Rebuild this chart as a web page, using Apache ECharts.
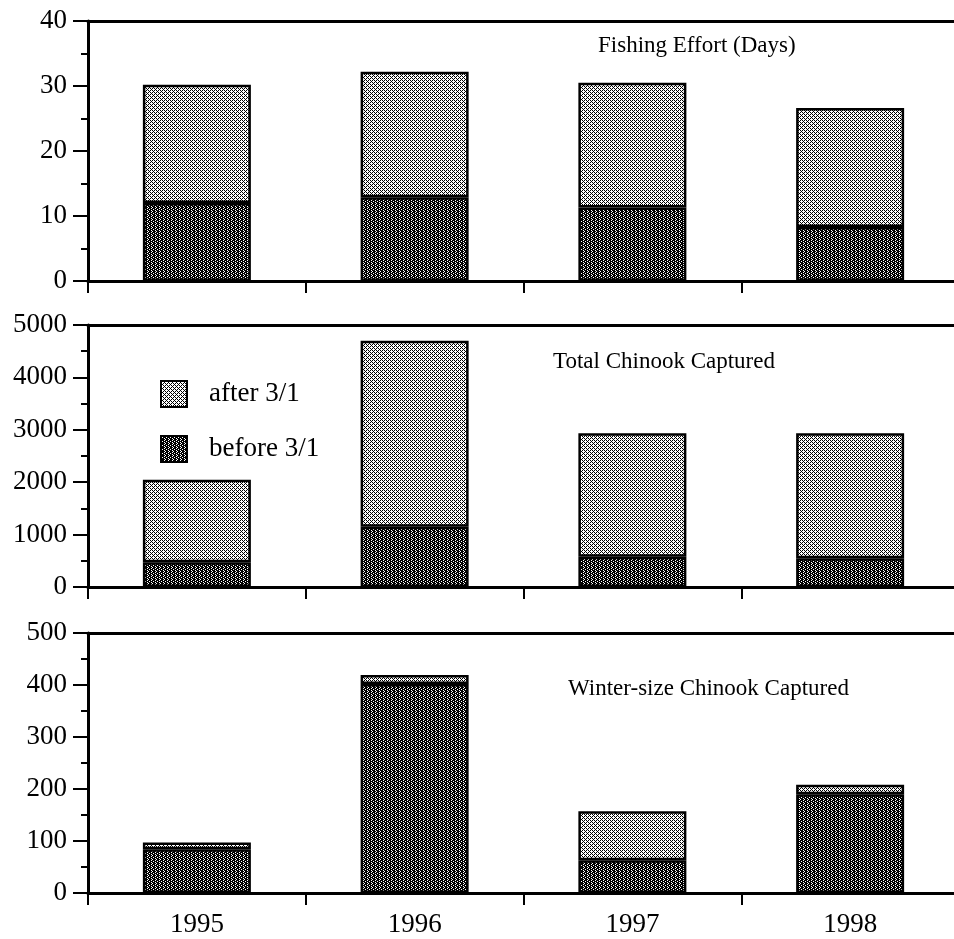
<!DOCTYPE html>
<html>
<head>
<meta charset="utf-8">
<script src="https://cdn.jsdelivr.net/npm/echarts@6/dist/echarts.min.js"></script>
<style>html,body{margin:0;padding:0;background:#fff;overflow:hidden;}#c{width:960px;height:939px;}</style>
</head>
<body>
<div id="c"></div>
<script>
// ---- data ----
const years = ['1995', '1996', '1997', '1998'];
const effortBefore = [12, 12.9, 11.3, 8.3];
const effortAfter = [18.2, 19.3, 19.2, 18.3];
const totalBefore = [470, 1150, 575, 550];
const totalAfter = [1575, 3550, 2360, 2385];
const winterBefore = [84, 402, 63, 190];
const winterAfter = [13, 17, 94, 18];
const panelTitles = ['Fishing Effort (Days)', 'Total Chinook Captured', 'Winter-size Chinook Captured'];
const yMax = [40, 5000, 500];
const yInterval = [10, 1000, 100];
const seriesNames = ['after 3/1', 'before 3/1'];

// ---- stipple patterns ----
function makePattern(bits) {
  const c = document.createElement('canvas');
  c.width = 4; c.height = 4;
  const ctx = c.getContext('2d');
  ctx.fillStyle = '#fff'; ctx.fillRect(0, 0, 4, 4);
  ctx.fillStyle = '#000';
  for (let y = 0; y < 4; y++) for (let x = 0; x < 4; x++) if (bits[y][x]) ctx.fillRect(x, y, 1, 1);
  return { image: c, repeat: 'repeat' };
}
const lightPat = makePattern([[1,0,1,0],[0,0,0,1],[1,0,1,0],[0,1,0,0]]);
const darkPat = makePattern([[1,1,1,0],[1,0,1,1],[1,1,1,0],[0,1,1,1]]);

const serif = 'Liberation Serif';
const grids = [
  { left: 88, width: 871, top: 21, height: 260 },
  { left: 88, width: 871, top: 325, height: 262 },
  { left: 88, width: 871, top: 633, height: 260 }
];
const titlePos = [
  { left: 598, top: 34 },
  { left: 553, top: 350 },
  { left: 568, top: 677 }
];
const beforeData = [effortBefore, totalBefore, winterBefore];
const afterData = [effortAfter, totalAfter, winterAfter];

const xAxes = [], yAxes = [], series = [], titles = [];
for (let i = 0; i < 3; i++) {
  xAxes.push({
    type: 'category', gridIndex: i, data: years, position: 'bottom',
    boundaryGap: true,
    axisLine: { show: true, lineStyle: { color: '#000', width: 3 } },
    axisTick: { show: true, length: 12, lineStyle: { color: '#000', width: 2 } },
    axisLabel: { show: i === 2, color: '#000', fontFamily: serif, fontSize: 27, margin: 18 }
  });
  xAxes.push({
    type: 'category', gridIndex: i, data: years, position: 'top',
    axisLine: { show: true, lineStyle: { color: '#000', width: 3 } },
    axisTick: { show: false }, axisLabel: { show: false }
  });
  yAxes.push({
    type: 'value', gridIndex: i, min: 0, max: yMax[i], interval: yInterval[i],
    axisLine: { show: true, lineStyle: { color: '#000', width: 3 } },
    axisTick: { show: true, length: 15, lineStyle: { color: '#000', width: 2 } },
    minorTick: { show: true, splitNumber: 2, length: 7, lineStyle: { color: '#000', width: 2 } },
    splitLine: { show: false },
    axisLabel: { color: '#000', fontFamily: serif, fontSize: 27, margin: 21, formatter: function (v) { return String(v); } }
  });
  series.push({
    name: seriesNames[1], type: 'bar', stack: 's' + i,
    xAxisIndex: i * 2, yAxisIndex: i, barWidth: 108,
    data: beforeData[i],
    itemStyle: { color: darkPat, borderColor: '#000', borderWidth: 2.5 }
  });
  series.push({
    name: seriesNames[0], type: 'bar', stack: 's' + i,
    xAxisIndex: i * 2, yAxisIndex: i, barWidth: 108,
    data: afterData[i],
    itemStyle: { color: lightPat, borderColor: '#000', borderWidth: 2.5 }
  });
  titles.push({
    text: panelTitles[i], left: titlePos[i].left, top: titlePos[i].top, padding: 0,
    textStyle: { fontFamily: serif, fontSize: 23, fontWeight: 'normal', color: '#000' }
  });
}

const chart = echarts.init(document.getElementById('c'), null, { renderer: 'canvas' });
chart.setOption({
  animation: false,
  backgroundColor: '#fff',
  title: titles,
  grid: grids,
  xAxis: xAxes,
  yAxis: yAxes,
  legend: {
    data: seriesNames, orient: 'vertical', left: 155, top: 375,
    itemWidth: 26, itemHeight: 26, itemGap: 27, icon: 'rect',
    selectedMode: false,
    textStyle: { fontFamily: serif, fontSize: 27, color: '#000', padding: [0, 0, 0, 17] }
  },
  series: series
});
</script>
</body>
</html>
